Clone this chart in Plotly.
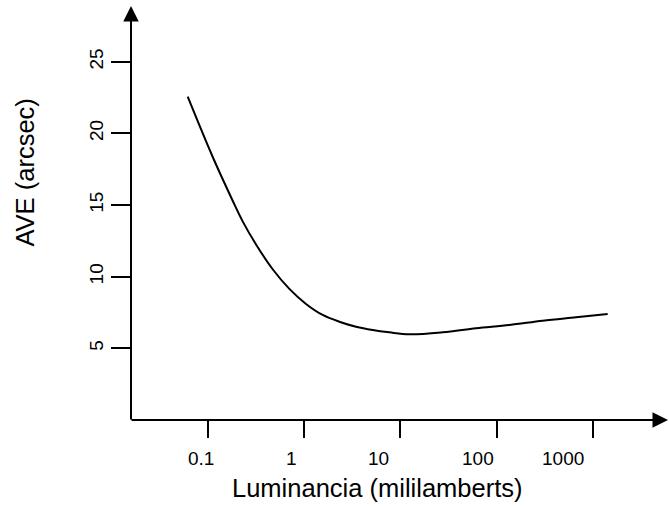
import math
import plotly.graph_objects as go

# ---- data ----
luminance = [0.0611, 0.111, 0.179, 0.228, 0.314, 0.468, 0.698, 1.04, 1.55, 2.31,
             3.45, 5.14, 7.66, 12.4, 27.5, 61.2, 136, 302, 671, 1432]
ave_arcsec = [22.56, 18.37, 15.32, 13.86, 12.25, 10.52, 9.15, 8.10, 7.33, 6.86,
              6.51, 6.28, 6.12, 5.98, 6.12, 6.40, 6.63, 6.93, 7.17, 7.40]

x_tick_vals = [0.1, 1, 10, 100, 1000]
x_tick_labels = ["0.1", "1", "10", "100", "1000"]
y_tick_vals = [5, 10, 15, 20, 25]
y_tick_labels = ["5", "10", "15", "20", "25"]

x_title = "Luminancia (mililamberts)"
y_title = "AVE (arcsec)"

# ---- style ----
FONT = "Liberation Sans, Arial, sans-serif"
label_xshift = [-7, -12.5, -22, -19, -29.5]  # label offsets (px) seen in the reference

W, H = 669, 506
ML, MR, MT, MB = 131, 0, 8, 86
PW = W - ML - MR
PH = H - MT - MB

fig = go.Figure()
fig.add_trace(go.Scatter(
    x=luminance, y=ave_arcsec, mode="lines",
    line=dict(color="black", width=2, shape="spline", smoothing=1.0),
    hoverinfo="skip", showlegend=False,
))

fig.update_layout(
    width=W, height=H,
    margin=dict(l=ML, r=MR, t=MT, b=MB, pad=0, autoexpand=False),
    paper_bgcolor="white", plot_bgcolor="white",
    font=dict(family=FONT, color="black", size=19),
    showlegend=False,
    xaxis=dict(
        type="log", range=[-1.804, 3.794],
        tickvals=x_tick_vals, ticktext=x_tick_labels, showticklabels=False,
        ticks="outside", ticklen=17, tickwidth=2, tickcolor="black",
        showgrid=False, zeroline=False, showline=False, automargin=False,
    ),
    yaxis=dict(
        range=[0, 28.75],
        tickvals=y_tick_vals, ticktext=y_tick_labels, tickangle=-90,
        ticks="outside", ticklen=19, tickwidth=2, tickcolor="black",
        tickfont=dict(size=19, family=FONT, color="black"),
        showgrid=False, zeroline=False, showline=False, automargin=False,
    ),
)

# x tick labels
for v, t, sh in zip(x_tick_vals, x_tick_labels, label_xshift):
    fig.add_annotation(
        x=math.log10(v), y=-0.093, xref="x", yref="paper",
        text=t, showarrow=False, xshift=sh,
        xanchor="center", yanchor="middle",
        font=dict(size=19, family=FONT, color="black"),
    )

# axis titles
fig.add_annotation(
    x=(377 - ML) / PW, y=(MT + PH - 488) / PH, xref="paper", yref="paper",
    text=x_title, showarrow=False, xanchor="center", yanchor="middle",
    font=dict(size=25.5, family=FONT, color="black"),
)
fig.add_annotation(
    x=(24 - ML) / PW, y=(MT + PH - 172.5) / PH, xref="paper", yref="paper",
    text=y_title, showarrow=False, textangle=-90, xanchor="center", yanchor="middle",
    font=dict(size=25.5, family=FONT, color="black"),
)

# axis lines with arrowheads
x_head_px = 682.5
fig.add_annotation(
    x=(x_head_px - ML) / PW, y=0, xref="paper", yref="paper",
    ax=130 - x_head_px, ay=0, axref="pixel", ayref="pixel",
    showarrow=True, arrowhead=2, arrowsize=1.55, arrowwidth=2, arrowcolor="black",
    text="", standoff=0,
)
y_head_px = 6
fig.add_annotation(
    x=0, y=(MT + PH - y_head_px) / PH, xref="paper", yref="paper",
    ax=0, ay=421 - y_head_px, axref="pixel", ayref="pixel",
    showarrow=True, arrowhead=2, arrowsize=1.55, arrowwidth=2, arrowcolor="black",
    text="", standoff=0,
)

fig.write_html(
    "out.html",
    config={"displayModeBar": False},
    post_script="document.body.style.margin='0px';document.body.style.overflow='hidden';",
)
